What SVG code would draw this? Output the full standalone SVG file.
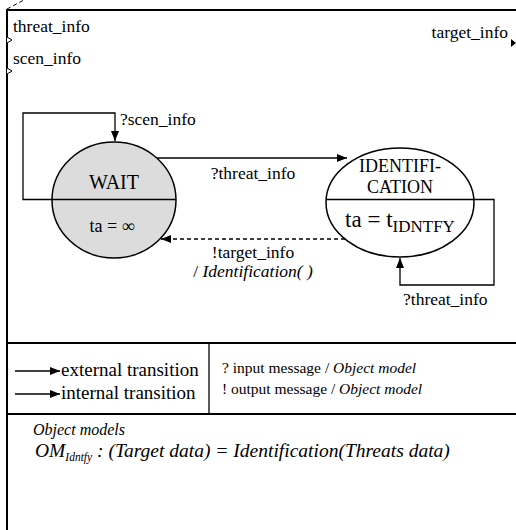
<svg xmlns="http://www.w3.org/2000/svg" width="516" height="530" viewBox="0 0 516 530">
<style>
text{font-family:"Liberation Serif",Tinos,"Times New Roman",Times,"DejaVu Serif",serif;fill:#000}
.lbl{font-size:17.5px}
.it{font-style:italic}
.ln{fill:none;stroke:#000;stroke-width:1.3}
.frame{fill:none;stroke:#000;stroke-width:2}
.st{stroke:#000;stroke-width:1.5}
</style>
<defs>
<marker id="ah" viewBox="0 0 10 8" refX="10" refY="4" markerWidth="10" markerHeight="8" markerUnits="userSpaceOnUse" orient="auto">
<path d="M0,0 L10,4 L0,8 Z" fill="#000"/>
</marker>
</defs>
<rect width="516" height="530" fill="#fff"/>
<g id="frame">
<path class="frame" d="M7,530 V10 H516"/>
<path d="M7,9 L24,0" stroke="#000" stroke-width="1" stroke-dasharray="4,3" fill="none"/>
<path class="frame" d="M7,343 H516 M7,414 H516"/>
<path d="M209,343 V414" stroke="#000" stroke-width="1.3"/>
<path d="M7,37 L12,40 L7,43" fill="#fff" stroke="#000" stroke-width="1"/>
<path d="M7,68 L12,71 L7,74" fill="#fff" stroke="#000" stroke-width="1"/>
<path d="M511,39 L516,43 L511,47 Z" fill="#000"/>
<text class="lbl" x="13" y="32">threat_info</text>
<text class="lbl" x="13" y="64">scen_info</text>
<text class="lbl" x="508" y="38" text-anchor="end">target_info</text>
</g>
<g id="WAIT">
<ellipse cx="114" cy="200" rx="62" ry="58" fill="#dcdcdc" class="st"/>
<path d="M52,199.5 H176" stroke="#000" stroke-width="1.3"/>
<text x="114" y="189" font-size="20" text-anchor="middle">WAIT</text>
<text x="112" y="232" font-size="18" text-anchor="middle">ta = ∞</text>
</g>
<g id="IDENTIFICATION">
<ellipse cx="400" cy="202.5" rx="74" ry="54.5" fill="#fff" class="st"/>
<path d="M326,199.5 H474" stroke="#000" stroke-width="1.3"/>
<text x="400" y="172" font-size="18" text-anchor="middle">IDENTIFI-</text>
<text x="400" y="193" font-size="18" text-anchor="middle">CATION</text>
<text x="400" y="227" font-size="23" text-anchor="middle">ta = t<tspan font-size="17" dy="5">IDNTFY</tspan></text>
</g>
<g id="connectors">
<path class="ln" d="M52,199.5 H23 V113 H115 V141" marker-end="url(#ah)"/>
<path class="ln" d="M157,158 H347" marker-end="url(#ah)"/>
<path class="ln" d="M345,239 H161" stroke-dasharray="4,3" marker-end="url(#ah)"/>
<path class="ln" d="M474,199.5 H494 V285 H400 V258" marker-end="url(#ah)"/>
<text class="lbl" x="120" y="125">?scen_info</text>
<text class="lbl" x="253" y="179" text-anchor="middle">?threat_info</text>
<text class="lbl" x="253" y="258" text-anchor="middle">!target_info</text>
<text class="lbl" x="253" y="277" text-anchor="middle">/ <tspan class="it">Identification( )</tspan></text>
<text class="lbl" x="403" y="305">?threat_info</text>
</g>
<g id="legend">
<path class="ln" d="M15,371 H60" marker-end="url(#ah)"/>
<path class="ln" d="M15,394 H60" marker-end="url(#ah)"/>
<text x="61" y="376" font-size="19">external transition</text>
<text x="61" y="399" font-size="19">internal transition</text>
<text x="222" y="373" font-size="15.5">? input message / <tspan class="it">Object model</tspan></text>
<text x="222" y="394" font-size="15.5">! output message / <tspan class="it">Object model</tspan></text>
</g>
<g id="objectmodels">
<text x="33" y="435" font-size="16" class="it">Object models</text>
<text x="35" y="457" font-size="19.5" class="it">OM<tspan font-size="11.5" dy="4">Idntfy</tspan><tspan dy="-4"> : (Target data) = Identification(Threats data)</tspan></text>
</g>
</svg>
